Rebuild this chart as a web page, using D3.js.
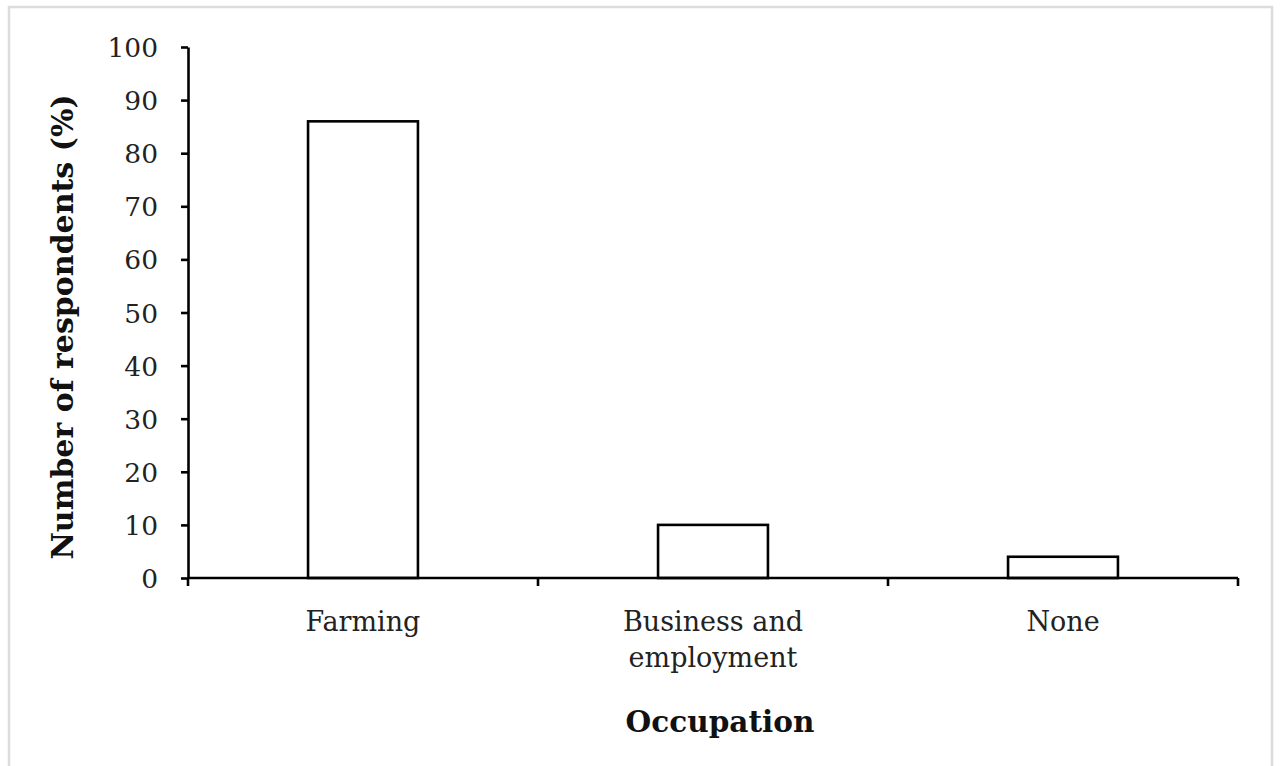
<!DOCTYPE html>
<html><head><meta charset="utf-8">
<script src="https://cdn.jsdelivr.net/npm/d3@7"></script>
<style>html,body{margin:0;padding:0;background:#fff;}</style>
</head><body>
<svg id="chart" width="1280" height="766"></svg>
<script>
const categories = [["Farming"], ["Business and", "employment"], ["None"]];
const categoryKeys = ["Farming", "Business and employment", "None"];
const values = [86, 10, 4];
const yTicks = [0, 10, 20, 30, 40, 50, 60, 70, 80, 90, 100];
const yTitle = "Number of respondents (%)";
const xTitle = "Occupation";

(function () {
const svg = d3.select("#chart");
const font = "'DejaVu Serif', serif";

svg.append("rect").attr("x", 9).attr("y", 7).attr("width", 1263).attr("height", 770)
  .attr("fill", "#fff").attr("stroke", "#dcdcdc").attr("stroke-width", 2.5);

const mLeft = 188, mRight = 1238, mTop = 47, mBottom = 578;
const x = d3.scaleBand().domain(categoryKeys).range([mLeft, mRight]).paddingInner(0.686).paddingOuter(0.343);
const xb = d3.scaleBand().domain(categoryKeys).range([mLeft, mRight]);
const y = d3.scaleLinear().domain([0, 100]).range([mBottom, mTop]);

// bars
svg.append("g").selectAll("rect").data(values).join("rect")
  .attr("x", (d, i) => x(categoryKeys[i]))
  .attr("y", d => y(d))
  .attr("width", x.bandwidth())
  .attr("height", d => y(0) - y(d))
  .attr("fill", "#fff").attr("stroke", "#000").attr("stroke-width", 2.6);

// y axis
const yAxis = d3.axisLeft(y).tickValues(yTicks).tickSize(7).tickPadding(23).tickSizeOuter(0);
const gy = svg.append("g").attr("transform", `translate(${mLeft},0)`).call(yAxis);
gy.select(".domain").attr("stroke", "#000").attr("stroke-width", 2.6);
gy.selectAll(".tick line").attr("stroke", "#000").attr("stroke-width", 2.6);
gy.selectAll(".tick text").attr("font-family", font).attr("font-size", 26.5).attr("fill", "#222")
  .attr("dy", "0.36em");

// x axis line with boundary ticks
const gx = svg.append("g");
gx.append("line").attr("x1", mLeft).attr("x2", mRight).attr("y1", y(0)).attr("y2", y(0))
  .attr("stroke", "#000").attr("stroke-width", 2.6);
const bounds = categoryKeys.map(k => xb(k)).concat([xb(categoryKeys[categoryKeys.length - 1]) + xb.bandwidth()]);
gx.selectAll("line.b").data(bounds).join("line").attr("class", "b")
  .attr("x1", d => d).attr("x2", d => d).attr("y1", y(0)).attr("y2", y(0) + 8)
  .attr("stroke", "#000").attr("stroke-width", 2.6);

// category labels
const lab = svg.append("g").selectAll("text").data(categories).join("text")
  .attr("x", (d, i) => xb(categoryKeys[i]) + xb.bandwidth() / 2)
  .attr("y", 631)
  .attr("text-anchor", "middle")
  .attr("font-family", font).attr("font-size", 27).attr("fill", "#222");
lab.selectAll("tspan").data(d => d).join("tspan")
  .attr("x", function () { return d3.select(this.parentNode).attr("x"); })
  .attr("dy", (d, i) => i === 0 ? 0 : 36)
  .text(d => d);

// titles
svg.append("text").attr("x", 720).attr("y", 732).attr("text-anchor", "middle")
  .attr("font-family", font).attr("font-weight", "bold").attr("font-size", 29.5).attr("fill", "#111")
  .text(xTitle);
svg.append("text").attr("transform", "translate(73,327) rotate(-90)").attr("text-anchor", "middle")
  .attr("font-family", font).attr("font-weight", "bold").attr("font-size", 30).attr("fill", "#111")
  .text(yTitle);
})();
</script>
</body></html>
